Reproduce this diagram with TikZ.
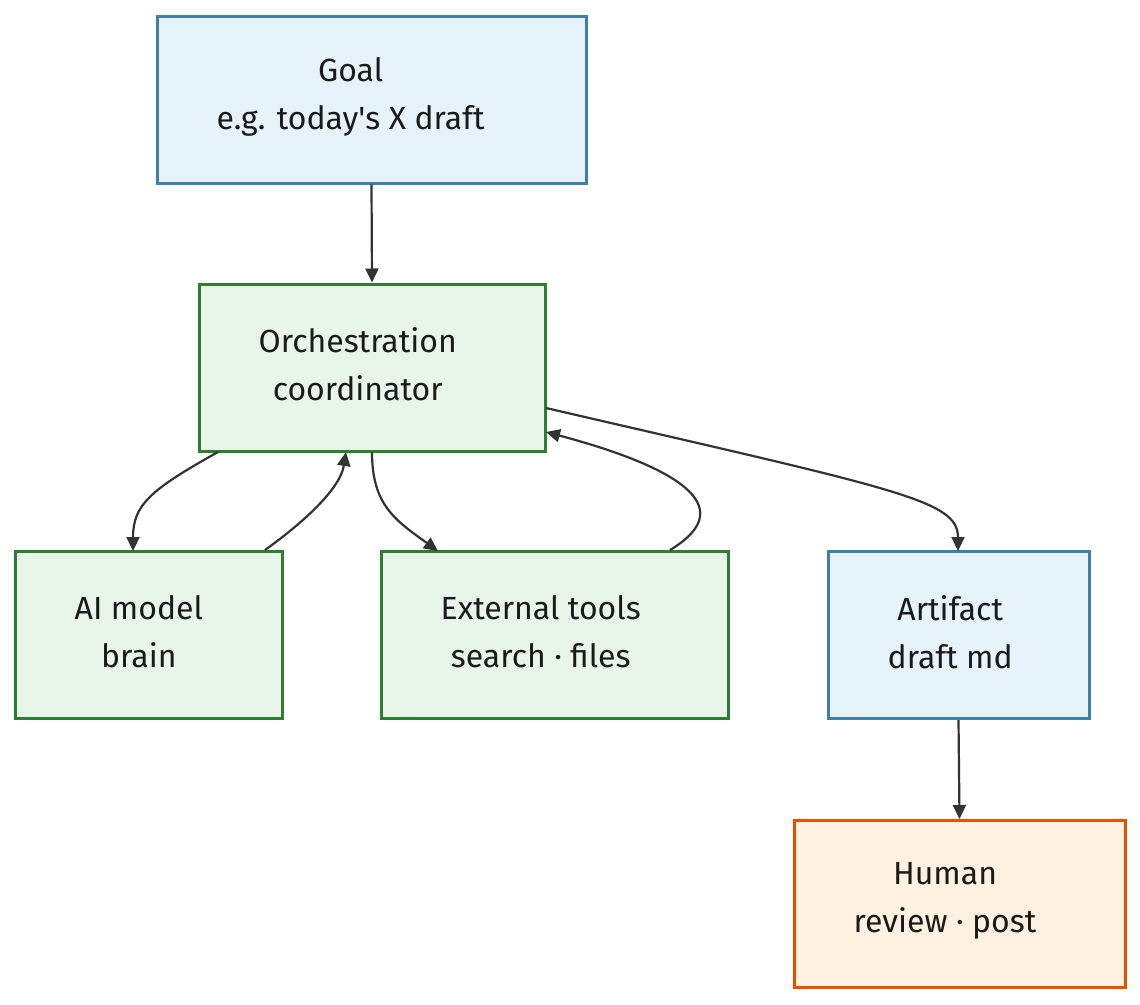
\documentclass[tikz,border=0pt]{standalone}
\usepackage{fontspec}
\setmainfont{Fira Sans}
\usetikzlibrary{arrows.meta,calc}
\definecolor{bluefill}{HTML}{E6F3FB}
\definecolor{bluedraw}{HTML}{3F7FA8}
\definecolor{greenfill}{HTML}{E8F5E9}
\definecolor{greendraw}{HTML}{2E7D32}
\definecolor{orangefill}{HTML}{FFF1DF}
\definecolor{orangedraw}{HTML}{E65100}
\definecolor{edgecol}{HTML}{333333}
\definecolor{txtcol}{HTML}{1A1A1A}
\tikzset{
  box/.style={draw, line width=3pt, minimum height=167pt, inner sep=0pt},
  bluebox/.style={box, fill=bluefill, draw=bluedraw},
  greenbox/.style={box, fill=greenfill, draw=greendraw},
  orangebox/.style={box, fill=orangefill, draw=orangedraw},
  lbl/.style={anchor=west, inner sep=0pt, align=center, text=txtcol, font=\fontsize{32}{48}\selectfont},
  edge/.style={draw=edgecol, line width=2.2pt, -{Triangle[length=14pt,width=13pt]}},
}
\begin{document}
\begin{tikzpicture}[x=1pt,y=-1pt]
\useasboundingbox (0,0) rectangle (1140,1004);
\node[bluebox, minimum width=429pt] (goal) at (371.5,99.5) {};
\node[greenbox, minimum width=346pt] (orch) at (372,367.5) {};
\node[greenbox, minimum width=267pt] (ai) at (148.5,635) {};
\node[greenbox, minimum width=347pt] (ext) at (554.5,635) {};
\node[bluebox, minimum width=261pt] (art) at (958.5,635) {};
\node[orangebox, minimum width=331pt] (human) at (959.5,904) {};

\node[lbl] (goalt) at ($(goal.west)+(61,-3)$) {Goal\\e.g. today\textquotesingle s X draft};
\node[lbl] (orcht) at ($(orch.west)+(61,-3)$) {Orchestration\\coordinator};
\node[lbl] (ait) at ($(ai.west)+(61,-3)$) {AI model\\brain};
\node[lbl] (extt) at ($(ext.west)+(61,-3)$) {External tools\\search · files};
\node[lbl] (artt) at ($(art.west)+(61,-3)$) {Artifact\\draft md};
\node[lbl] (humant) at ($(human.west)+(61,-3)$) {Human\\review · post};

\coordinate (o1) at (218,452);
\coordinate (o2) at (346,452);
\coordinate (o3) at (372,452);
\coordinate (o4) at (546,432);
\coordinate (o5) at (546,408);
\coordinate (a1) at (133,551);
\coordinate (a2) at (265,550);
\coordinate (e1) at (438,551);
\coordinate (e2) at (670,550);
\coordinate (r1) at (958,551);

\draw[edge] (goal.south) -- (orch.north);
\draw[edge] (o1) .. controls (150,490) and (133,505) .. (a1);
\draw[edge] (a2) .. controls (300,525) and (340,490) .. (o2);
\draw[edge] (o3) .. controls (372,505) and (395,520) .. (e1);
\draw[edge] (e2) .. controls (745,505) and (670,465) .. (o4);
\draw[edge] (o5) .. controls (900,490) and (958,500) .. (r1);
\draw[edge] (art.south) -- (human.north);
\end{tikzpicture}
\end{document}
